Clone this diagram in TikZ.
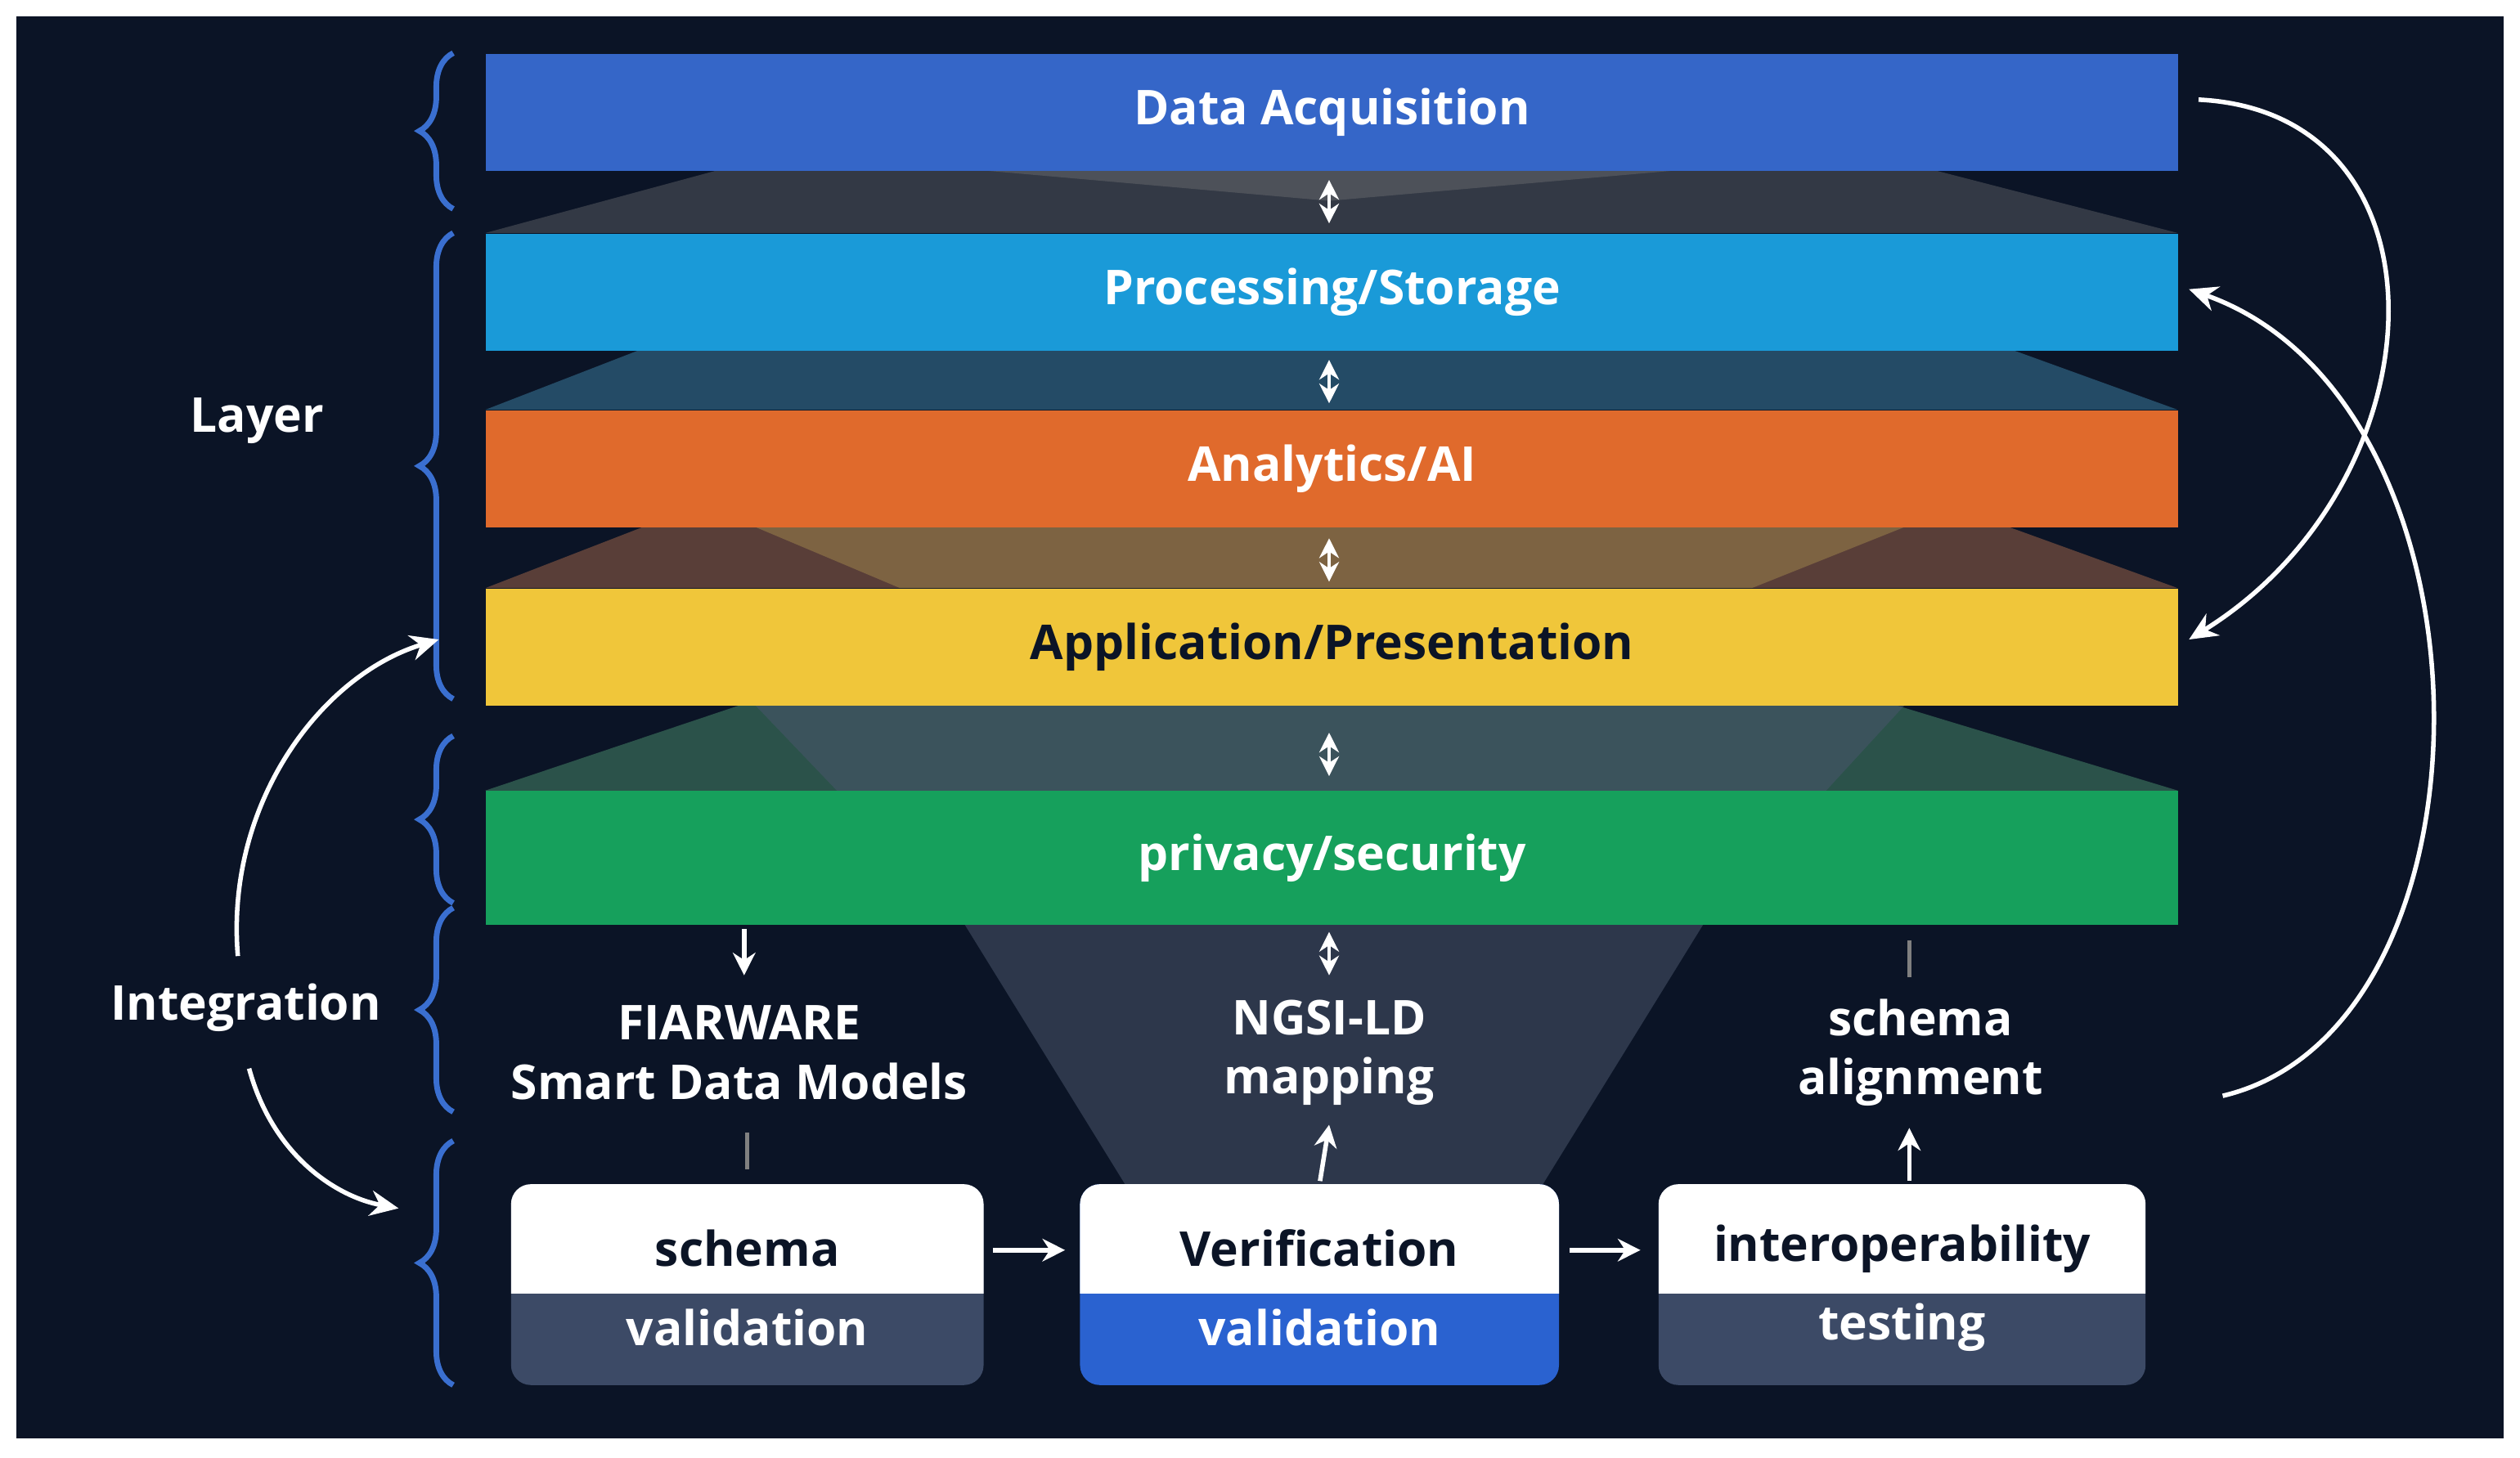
\documentclass[tikz,border=0pt]{standalone}
\usepackage{fontspec}
\setmainfont{Open Sans}
\usetikzlibrary{arrows.meta,decorations.pathreplacing}
\definecolor{bg}{HTML}{0B1426}
\definecolor{lda}{HTML}{3566C8}
\definecolor{lps}{HTML}{1A9AD8}
\definecolor{lai}{HTML}{E06A2C}
\definecolor{lap}{HTML}{F0C63A}
\definecolor{lpr}{HTML}{16A05C}
\definecolor{slate}{HTML}{3C4A66}
\definecolor{vblue}{HTML}{2A62D0}
\definecolor{brace}{HTML}{3A6FD0}
\begin{document}
\begin{tikzpicture}[x=0.02cm,y=-0.02cm,
  txt/.style={font=\fontsize{17}{20}\selectfont\bfseries,text=white},
  btxt/.style={font=\fontsize{17}{21}\selectfont\bfseries,text=white,align=center},
  layer/.style={minimum width=1053*0.02cm,minimum height=73*0.02cm,inner sep=0,anchor=north west},
  dia/.style={{Stealth[length=7pt,width=7pt]}-{Stealth[length=7pt,width=7pt]},white,line width=1pt},
  arr/.style={-{Stealth[length=8pt,width=8pt]},white,line width=1.6pt},
  curv/.style={-{Stealth[length=10pt,width=9pt]},white,line width=1.6pt},
  br/.style={brace,line width=2pt,decorate,decoration={brace,amplitude=12pt}},
  tick/.style={gray,line width=1.5pt}]
\useasboundingbox (0,0) rectangle (1568,907);
\fill[white] (0,0) rectangle (1568,907);
\fill[bg] (10,10) rectangle (1558,895);
% funnel shapes
\fill[gray,opacity=0.35] (302,145)--(1355,145)--(1200,105)--(450,105)--cycle;
\fill[gray,opacity=0.35] (600,105)--(1055,105)--(827,125)--cycle;
\fill[lps!60!gray,opacity=0.45] (302,255)--(1355,255)--(1250,217)--(400,217)--cycle;
\fill[lai!60!gray,opacity=0.45] (302,366)--(1355,366)--(1250,328)--(400,328)--cycle;
\fill[lap!60!gray,opacity=0.35] (470,328)--(1185,328)--(1090,366)--(560,366)--cycle;
\fill[lpr!50!gray,opacity=0.5] (302,492)--(1355,492)--(1180,439)--(460,439)--cycle;
\fill[slate!80!gray,opacity=0.55] (470,439)--(1185,439)--(1060,575)--(600,575)--cycle;
\fill[slate!80!gray,opacity=0.55] (600,575)--(1060,575)--(960,737)--(700,737)--cycle;
% layers
\node[layer,fill=lda] (da) at (302,33) {}; \node[txt] at (da.center) {Data Acquisition};
\node[layer,fill=lps] (ps) at (302,145) {}; \node[txt] at (ps.center) {Processing/Storage};
\node[layer,fill=lai] (ai) at (302,255) {}; \node[txt] at (ai.center) {Analytics/AI};
\node[layer,fill=lap] (ap) at (302,366) {}; \node[txt,text=bg] at (ap.center) {Application/Presentation};
\node[layer,fill=lpr,minimum height=83*0.02cm] (pr) at (302,492) {}; \node[txt] at (pr.center) {privacy/security};
% diamonds
\coordinate (d1a) at (827,112); \coordinate (d1b) at (827,139);
\coordinate (d2a) at (827,224); \coordinate (d2b) at (827,251);
\coordinate (d3a) at (827,335); \coordinate (d3b) at (827,362);
\coordinate (d4a) at (827,456); \coordinate (d4b) at (827,483);
\coordinate (d5a) at (827,580); \coordinate (d5b) at (827,607);
\foreach \i in {1,...,5} \draw[dia] (d\i a)--(d\i b);
% braces
\draw[br] (282,130)--(282,33);
\draw[br] (282,435)--(282,145);
\draw[br] (282,562)--(282,458);
\draw[br] (282,692)--(282,565);
\draw[br] (282,862)--(282,710);
\node[txt] (lay) at (160,262) {Layer};
\node[txt] (int) at (153,627) {Integration};
% middle labels
\node[btxt] (fw) at (460,655) {FIARWARE\\Smart Data Models};
\node[btxt] (ng) at (827,655) {NGSI-LD\\mapping};
\node[btxt] (sa) at (1195,655) {schema\\alignment};
\coordinate (fwa) at (463,578); \coordinate (fwb) at (463,607);
\draw[arr] (fwa)--(fwb);
\coordinate (t1a) at (465,705); \coordinate (t1b) at (465,728);
\draw[tick] (t1a)--(t1b);
\coordinate (t2a) at (1188,585); \coordinate (t2b) at (1188,608);
\draw[tick] (t2a)--(t2b);
% boxes
\tikzset{boxtop/.style={fill=white,rounded corners=7pt},}
\foreach \n/\x/\w/\c/\ta/\tb in {sv/318/294/slate/schema/validation, vv/672/298/vblue/Verification/validation, it/1032/303/slate/interoperability/testing}{
  \fill[\c,rounded corners=7pt] (\x,737) rectangle (\x+\w,862);
  \begin{scope}
  \clip (\x,737) rectangle (\x+\w,805);
  \fill[white,rounded corners=7pt] (\x,737) rectangle (\x+\w,830);
  \end{scope}
  \node[inner sep=0,minimum width=\w*0.02cm,minimum height=125*0.02cm,anchor=north west] (\n) at (\x,737) {};
  \node[btxt,text=bg] at (\x+\w/2,777) {\ta};
  \node[btxt] at (\x+\w/2,826) {\tb};
}
\draw[arr] (sv.east|-0,778) ++(5,0) -- ++(45,0);
\draw[arr] (vv.east|-0,778) ++(6,0) -- ++(44,0);
\draw[arr] (vv.north|-0,735) -- (827,700);
\draw[arr] (1188,735) -- (1188,702);
% curved arrows
\coordinate (c1s) at (1368,62); \coordinate (c1e) at (1362,398);
\draw[curv] (c1s) .. controls (1530,70) and (1520,300) .. (c1e);
\coordinate (c2s) at (1383,682); \coordinate (c2e) at (1362,180);
\draw[curv] (c2s) .. controls (1560,640) and (1560,250) .. (c2e);
\coordinate (c3s) at (148,595); \coordinate (c3e) at (273,398);
\draw[curv] (c3s) .. controls (140,500) and (200,420) .. (c3e);
\coordinate (c4s) at (155,665); \coordinate (c4e) at (248,752);
\draw[curv] (c4s) .. controls (170,720) and (210,745) .. (c4e);
\end{tikzpicture}
\end{document}
